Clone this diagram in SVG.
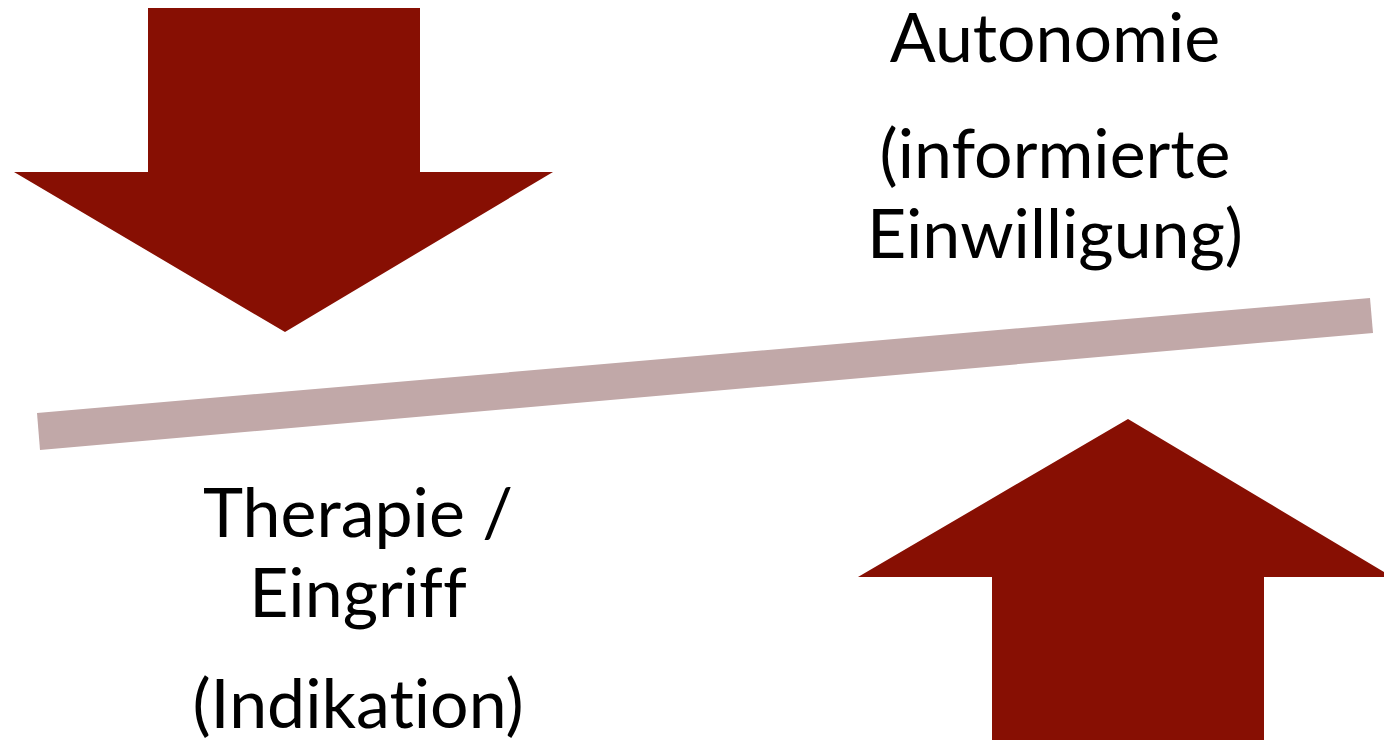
<svg xmlns="http://www.w3.org/2000/svg" width="1384" height="744" viewBox="0 0 1384 744">
<style>
.arrow{fill:#870F03}
.bar{fill:#C1A8A8}
.t{font-family:Lato,"Open Sans",sans-serif;font-size:68px;fill:#000;text-anchor:middle;font-variant-ligatures:none;font-feature-settings:"liga" 0,"clig" 0}
</style>
<rect width="1384" height="744" fill="#fff"/>
<g id="bar"><polygon class="bar" points="37,413 1370,298 1373,333 40,450"/></g>
<g id="arrow-down"><polygon class="arrow" points="148,8 420,8 420,172 553,172 285,332 14,172 148,172"/></g>
<g id="arrow-up"><polygon class="arrow" points="1128,419 1384,572 1384,577 1264,577 1264,740 992,740 992,577 858,577"/></g>
<g id="label-autonomie">
<text class="t" x="1055" y="62">Autonomie</text>
<text class="t" x="1055" y="178">(informierte</text>
<text class="t" x="1055" y="258">Einwilligung)</text>
</g>
<g id="label-therapie">
<text class="t" x="358" y="537">Therapie /</text>
<text class="t" x="358" y="617">Eingriff</text>
<text class="t" x="358" y="728">(Indikation)</text>
</g>
</svg>
